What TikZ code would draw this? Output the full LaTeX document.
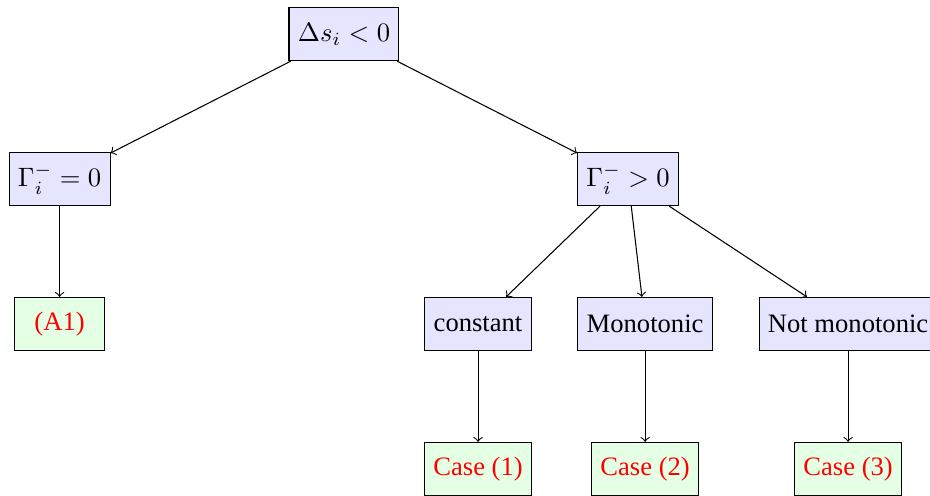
\documentclass[tikz,border=0pt]{standalone}
\usepackage[no-math]{fontspec}
\setmainfont{Liberation Serif}
\begin{document}
\begin{tikzpicture}[x=1pt,y=1pt,
  qbox/.style={draw, fill=blue!10, minimum height=20pt, inner sep=3.33pt},
  rbox/.style={draw, fill=green!10, minimum height=20pt, inner sep=3.33pt, text=red},
  arr/.style={->}]
\useasboundingbox (0,0) rectangle (349.6,-186.1);
\node[qbox] (top) at (129.3,-12.8) {$\Delta s_i < 0$};
\node[qbox] (g0) at (22.4,-67.3) {$\Gamma_i^- = 0$};
\node[qbox] (gp) at (236.1,-67.3) {$\Gamma_i^- > 0$};
\node[rbox, minimum width=34pt] (a1) at (22.4,-121.8) {(A1)};
\node[qbox] (const) at (179.7,-121.8) {constant};
\node[qbox] (mono) at (242.5,-121.8) {Monotonic};
\node[qbox] (nmono) at (318.8,-121.8) {Not monotonic};
\node[rbox] (c1) at (179.7,-176.3) {Case (1)};
\node[rbox] (c2) at (242.5,-176.3) {Case (2)};
\node[rbox] (c3) at (318.8,-176.3) {Case (3)};
\draw[arr] (top) -- (g0);
\draw[arr] (top) -- (gp);
\draw[arr] (g0) -- (a1);
\draw[arr] (gp) -- (const);
\draw[arr] (gp) -- (mono);
\draw[arr] (gp) -- (nmono);
\draw[arr] (const) -- (c1);
\draw[arr] (mono) -- (c2);
\draw[arr] (nmono) -- (c3);
\end{tikzpicture}
\end{document}
